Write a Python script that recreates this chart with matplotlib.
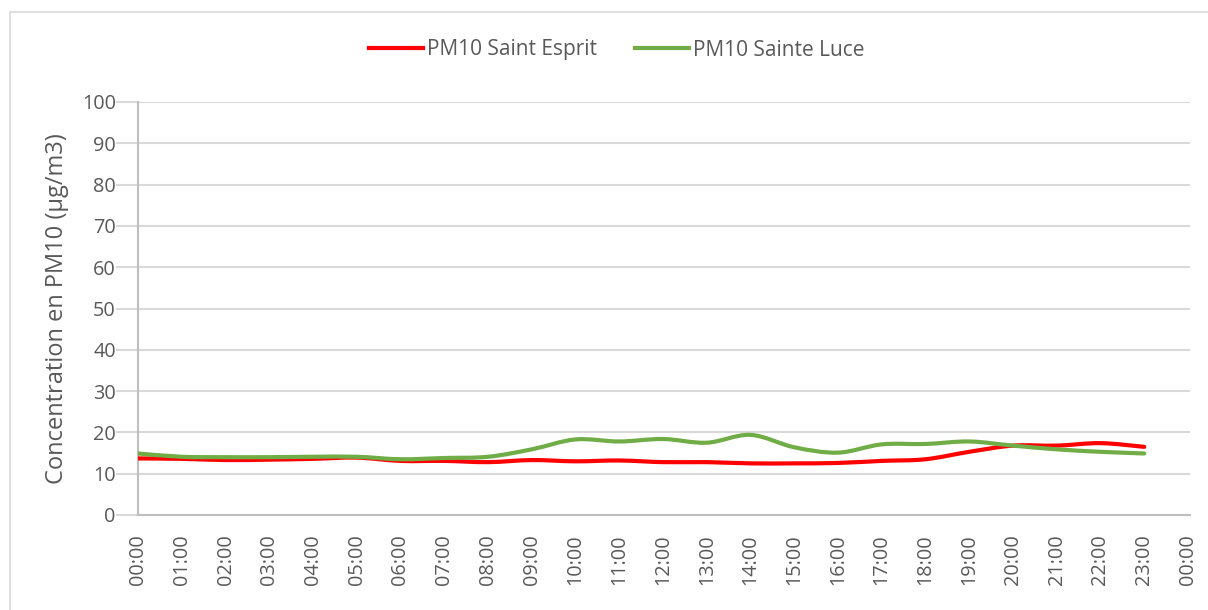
import numpy as np
import matplotlib.pyplot as plt
from matplotlib.path import Path
from matplotlib.patches import PathPatch, Rectangle
from matplotlib.lines import Line2D

plt.rcParams['font.family'] = ['Open Sans', 'DejaVu Sans']

# data
hours = ['%02d:00' % h for h in range(24)] + ['00:00']
saint_esprit = [13.7, 13.6, 13.3, 13.4, 13.6, 13.9, 13.1, 13.1, 12.8, 13.3, 13.0, 13.2,
                12.8, 12.8, 12.5, 12.5, 12.6, 13.1, 13.5, 15.3, 16.8, 16.8, 17.4, 16.5]
sainte_luce = [14.9, 14.1, 14.0, 14.0, 14.1, 14.1, 13.5, 13.8, 14.1, 15.9, 18.3, 17.8,
               18.4, 17.5, 19.4, 16.4, 15.1, 17.1, 17.2, 17.8, 16.8, 15.9, 15.3, 14.9]
y_ticks = list(range(0, 101, 10))

text_col = '#595959'
grid_col = '#d9d9d9'


def smooth_path(x, y):
    # excel-like smoothed line: bezier segments, control points from neighbours
    x = np.asarray(x, float)
    y = np.asarray(y, float)
    n = len(x)
    verts = [(x[0], y[0])]
    codes = [Path.MOVETO]
    for i in range(n - 1):
        i0 = max(i - 1, 0)
        i3 = min(i + 2, n - 1)
        c1 = (x[i] + (x[i + 1] - x[i0]) / 6, y[i] + (y[i + 1] - y[i0]) / 6)
        c2 = (x[i + 1] - (x[i3] - x[i]) / 6, y[i + 1] - (y[i3] - y[i]) / 6)
        verts += [c1, c2, (x[i + 1], y[i + 1])]
        codes += [Path.CURVE4] * 3
    return Path(verts, codes)


W, H = 1208, 610
fig = plt.figure(figsize=(W / 100, H / 100), dpi=100)
fig.patches.append(Rectangle((10 / W, -0.01), 1.02, (H - 12) / H + 0.01,
                             transform=fig.transFigure, fill=False,
                             edgecolor=grid_col, linewidth=1.2))

ax = fig.add_axes([138 / W, (H - 515) / H, 1052 / W, 413 / H])
xs = np.arange(len(saint_esprit))
for vals, col in [(saint_esprit, '#ff0000'), (sainte_luce, '#70ad47')]:
    ax.add_patch(PathPatch(smooth_path(xs, vals), facecolor='none', edgecolor=col,
                           linewidth=3, capstyle='round', joinstyle='round', zorder=3))

ax.set_xlim(0, 24 * 1052 / 1050)
ax.set_ylim(0, 100)
ax.set_yticks(y_ticks)
ax.set_xticks(range(len(hours)))
ax.set_xticklabels(hours, rotation=90)
ax.grid(axis='y', color=grid_col, linewidth=1.5, zorder=0)
ax.set_axisbelow(True)
for s in ['top', 'right']:
    ax.spines[s].set_visible(False)
ax.spines['left'].set_color('#bfbfbf')
ax.spines['left'].set_linewidth(1.5)
ax.spines['bottom'].set_color('#bfbfbf')
ax.spines['bottom'].set_linewidth(1.5)
ax.tick_params(axis='y', length=16, width=1.5, color=grid_col, pad=0,
               labelsize=14.3, labelcolor=text_col)
ax.tick_params(axis='x', length=0, pad=14, labelsize=14.3, labelcolor=text_col)
ax.set_ylabel('Concentration en PM10 (µg/m3)', fontsize=17, color=text_col, labelpad=9)

handles = [Line2D([], [], color='#ff0000', linewidth=3),
           Line2D([], [], color='#70ad47', linewidth=3)]
fig.legend(handles, ['PM10 Saint Esprit', 'PM10 Sainte Luce'], loc='center',
           bbox_to_anchor=(617 / W, (H - 50) / H), ncol=2, frameon=False,
           fontsize=15, labelcolor=text_col, handlelength=2.6, handletextpad=0.2,
           columnspacing=1.8)

fig.savefig('out.png', dpi=100)
